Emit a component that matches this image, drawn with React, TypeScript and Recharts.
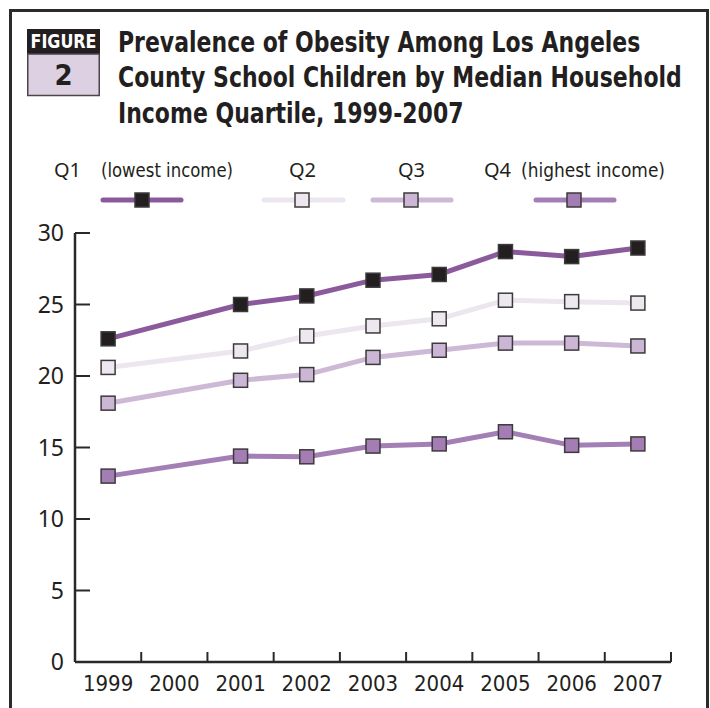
import React from 'react';
import { LineChart, Line, XAxis, YAxis } from 'recharts';

const YEARS = ['1999', '2000', '2001', '2002', '2003', '2004', '2005', '2006', '2007'];
// 2000 has no survey value; the lines run straight from 1999 to 2001
const Q1_LOWEST = [22.6, null, 25.0, 25.6, 26.7, 27.1, 28.7, 28.35, 28.95];
const Q2_VALUES = [20.6, null, 21.75, 22.8, 23.5, 24.0, 25.3, 25.2, 25.1];
const Q3_VALUES = [18.1, null, 19.7, 20.1, 21.3, 21.8, 22.3, 22.3, 22.1];
const Q4_HIGHEST = [13.0, null, 14.4, 14.35, 15.1, 15.25, 16.1, 15.15, 15.25];
const Y_TICKS = [0, 5, 10, 15, 20, 25, 30];
const TITLE_LINES = [
  'Prevalence of Obesity Among Los Angeles',
  'County School Children by Median Household',
  'Income Quartile, 1999-2007',
];

const W = 710;
const H = 708;
const PLOT_LEFT = 75;
const PLOT_RIGHT = 671;
const BAND = (PLOT_RIGHT - PLOT_LEFT) / YEARS.length;

const INK = '#231f20';
const AXIS = '#2b2829';
const MARK_STROKE = '#3d3a3b';
const NARROW = "'Liberation Sans Narrow', 'DejaVu Sans Condensed', 'Noto Sans', sans-serif";
const REGULAR = "'Noto Sans', 'Liberation Sans', sans-serif";

const series = [
  { key: 'q1', name: 'Q1', note: '(lowest income)', values: Q1_LOWEST, line: '#8a5a9c', fill: INK },
  { key: 'q2', name: 'Q2', note: '', values: Q2_VALUES, line: '#ece6ef', fill: '#ede7f0' },
  { key: 'q3', name: 'Q3', note: '', values: Q3_VALUES, line: '#cdb9d5', fill: '#cbb6d5' },
  { key: 'q4', name: 'Q4', note: '(highest income)', values: Q4_HIGHEST, line: '#a47fb5', fill: '#a57db5' },
];

const data = YEARS.map((year, i) => {
  const row: Record<string, string | number | null> = { year };
  series.forEach((s) => {
    row[s.key] = s.values[i];
  });
  return row;
});

function squareDot(fill: string) {
  return (props: any) => {
    const { cx, cy, index } = props;
    if (cx == null || cy == null || props.value == null) return <g key={index} />;
    return (
      <rect
        key={index}
        x={cx - 7}
        y={cy - 7}
        width={14}
        height={14}
        fill={fill}
        stroke={MARK_STROKE}
        strokeWidth={1.5}
      />
    );
  };
}

function YearTick(props: any) {
  const { x, y, payload } = props;
  return (
    <g>
      <line x1={x + BAND / 2} x2={x + BAND / 2} y1={y} y2={y - 10} stroke={AXIS} strokeWidth={2} />
      <text x={x} y={y + 29} textAnchor="middle" fontFamily={NARROW} fontSize={22} fill={INK}>
        {payload.value}
      </text>
    </g>
  );
}

function ValueTick(props: any) {
  const { x, y, payload } = props;
  return (
    <g>
      <line x1={x} x2={x + 15} y1={y} y2={y} stroke={AXIS} strokeWidth={2} />
      <text x={x - 11} y={y + 8} textAnchor="end" fontFamily={REGULAR} fontSize={23} fill={INK}>
        {payload.value}
      </text>
    </g>
  );
}

// legend layout: label anchor, sample line span and marker position
const legendSpots = [
  { q: 54, note: 101, noteW: 132, from: 103, to: 181, mark: 142 },
  { q: 289, note: 0, noteW: 0, from: 264, to: 343, mark: 302 },
  { q: 398, note: 0, noteW: 0, from: 373, to: 451, mark: 411 },
  { q: 484, note: 521, noteW: 144, from: 536, to: 614, mark: 574 },
];

function Header() {
  return (
    <svg width={W} height={220} style={{ position: 'absolute', left: 0, top: 0 }}>
      <rect x={27} y={29} width={73} height={25} fill={INK} />
      <text x={63.5} y={48} textAnchor="middle" fontFamily={NARROW} fontWeight={700} fontSize={20}
        fill="#fff" textLength={66} lengthAdjust="spacingAndGlyphs">FIGURE</text>
      <rect x={27.75} y={54} width={71.5} height={41.5} fill="#ddd0e2" stroke="#4a4647" strokeWidth={1.5} />
      <text x={63.5} y={85} textAnchor="middle" fontFamily={NARROW} fontWeight={700} fontSize={29} fill={INK}>2</text>

      {TITLE_LINES.map((t, i) => (
        <g key={t} transform={`translate(118 ${51.5 + i * 35.5}) scale(0.843 1)`}>
          <text x={0} y={0} fontFamily={NARROW} fontWeight={700} fontSize={29} fill={INK}>{t}</text>
        </g>
      ))}

      {series.map((s, i) => {
        const spot = legendSpots[i];
        return (
          <g key={s.key}>
            <text x={spot.q} y={177} fontFamily={REGULAR} fontSize={20} fill={INK}>{s.name}</text>
            {s.note && (
              <text x={spot.note} y={177} fontFamily={NARROW} fontSize={19} fill={INK}
                textLength={spot.noteW} lengthAdjust="spacingAndGlyphs">{s.note}</text>
            )}
            <line x1={spot.from} x2={spot.to} y1={200} y2={200} stroke={s.line} strokeWidth={5} strokeLinecap="round" />
            <rect x={spot.mark - 7} y={193} width={14} height={14} fill={s.fill} stroke={MARK_STROKE} strokeWidth={1.5} />
          </g>
        );
      })}
    </svg>
  );
}

export default function App() {
  return (
    <div style={{ position: 'absolute', left: 0, top: 0, width: W, height: H, overflow: 'hidden', background: '#fff' }}>
      <div
        style={{
          position: 'absolute',
          left: 9,
          top: 9,
          width: 694,
          height: 720,
          borderTop: '3px solid #2b2b2b',
          borderLeft: '3px solid #2b2b2b',
          borderRight: '3px solid #2b2b2b',
        }}
      />
      <Header />
      <div style={{ position: 'absolute', left: 0, top: 0 }}>
        <LineChart
          width={W}
          height={H}
          data={data}
          margin={{ top: 233, right: W - PLOT_RIGHT, bottom: 16, left: PLOT_LEFT - 40 }}
        >
          <XAxis
            dataKey="year"
            type="category"
            scale="band"
            height={30}
            axisLine={{ stroke: AXIS, strokeWidth: 2.5 }}
            tickLine={false}
            tickSize={0}
            tickMargin={0}
            interval={0}
            tick={<YearTick />}
          />
          <YAxis
            type="number"
            domain={[0, 30]}
            ticks={Y_TICKS}
            width={40}
            axisLine={{ stroke: AXIS, strokeWidth: 2.5 }}
            tickLine={false}
            tickSize={0}
            tickMargin={0}
            tick={<ValueTick />}
          />
          {series.map((s) => (
            <Line
              key={s.key}
              dataKey={s.key}
              name={s.name}
              type="linear"
              stroke={s.line}
              strokeWidth={5}
              connectNulls
              dot={squareDot(s.fill)}
              activeDot={false}
              isAnimationActive={false}
            />
          ))}
        </LineChart>
      </div>
    </div>
  );
}
